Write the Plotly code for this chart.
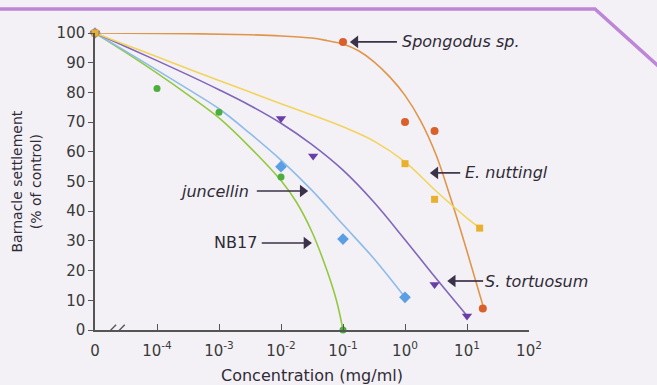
import math
import plotly.graph_objects as go

# ---------------- data ----------------
# x axis is log10(concentration, mg/ml); concentration 0 is drawn at the axis break position
ZERO_POS = -5
tick_vals = [-5, -4, -3, -2, -1, 0, 1, 2]
tick_text = ["0", "10<sup>-4</sup>", "10<sup>-3</sup>", "10<sup>-2</sup>", "10<sup>-1</sup>",
             "10<sup>0</sup>", "10<sup>1</sup>", "10<sup>2</sup>"]
y_ticks = [0, 10, 20, 30, 40, 50, 60, 70, 80, 90, 100]

# measured points: concentration (mg/ml) and settlement (% of control)
spongodus_conc = [0, 0.1, 1, 3, 18]
spongodus_val = [100, 97, 70, 67, 7.2]
nuttingi_conc = [0, 1, 3, 16]
nuttingi_val = [100, 56, 44, 34.3]
tortuosum_conc = [0, 0.01, 0.033, 3, 10]
tortuosum_val = [100, 71.2, 58.6, 15.3, 4.7]
juncellin_conc = [0, 0.01, 0.1, 1]
juncellin_val = [100, 55, 30.6, 11]
nb17_conc = [0, 1e-4, 1e-3, 1e-2, 0.1]
nb17_val = [100, 81.3, 73.3, 51.5, 0]

# fitted curves: log10(concentration) positions and values
spongodus_fit_x = [-5, -3.5, -2.5, -2, -1.5, -1.25, -1.0, -0.75, -0.5, -0.25, 0, 0.25, 0.5, 0.75, 1.0, 1.27]
spongodus_fit_y = [100, 99.8, 99.4, 99, 98.3, 97.4, 96.3, 94, 90.3, 85.3, 79, 70.5, 59, 43.5, 26.5, 7.3]
nuttingi_fit_x = [-5, -4.5, -4, -3.5, -3, -2.5, -2, -1.5, -1, -0.5, 0, 0.5, 1.0, 1.21]
nuttingi_fit_y = [100, 96, 92, 88, 84, 80.1, 76.2, 72.4, 68.4, 63.6, 56.6, 46.8, 37.7, 34.3]
tortuosum_fit_x = [-5, -4.5, -4, -3.5, -3, -2.5, -2, -1.5, -1, -0.5, 0, 0.5, 1.0]
tortuosum_fit_y = [100, 95.4, 90.7, 85.9, 80.9, 75.6, 69.6, 62.4, 53.8, 43.0, 30.4, 17.4, 4.8]
juncellin_fit_x = [-5, -4.5, -4, -3.5, -3, -2.5, -2, -1.5, -1, -0.5, 0]
juncellin_fit_y = [100, 93.8, 87.5, 81.1, 74.5, 66.2, 57.2, 47, 35.5, 24, 11]
nb17_fit_x = [-5, -4.5, -4, -3.5, -3, -2.5, -2, -1.75, -1.5, -1.25, -1.1, -1.0]
nb17_fit_y = [100, 93.4, 86.5, 79.2, 71.4, 61.5, 50.3, 43, 33, 19.5, 9.5, 0]

# labels: text, text anchor position, arrow tail -> arrow tip
labels = [
    {"text": "<i>Spongodus sp.</i>", "tx": -0.08, "ty": 97, "anchor": "left",
     "tail": (-0.13, 97), "tip": (-0.89, 97)},
    {"text": "<i>E. nuttingl</i>", "tx": 0.93, "ty": 52.9, "anchor": "left",
     "tail": (0.89, 52.9), "tip": (0.40, 52.9)},
    {"text": "<i>S. tortuosum</i>", "tx": 1.26, "ty": 16.5, "anchor": "left",
     "tail": (1.26, 16.5), "tip": (0.68, 16.5)},
    {"text": "<i>juncellin</i>", "tx": -2.48, "ty": 46.8, "anchor": "right",
     "tail": (-2.39, 46.8), "tip": (-1.56, 46.8)},
    {"text": "NB17", "tx": -2.36, "ty": 29.3, "anchor": "right",
     "tail": (-2.31, 29.3), "tip": (-1.50, 29.3)},
]


def pos(c):
    return math.log10(c) if c > 0 else ZERO_POS


FONT = "DejaVu Sans"
BG = "#f3f1f6"
TXT = "#2f2b37"
ARROW = "#3b3148"
HEAD_OFFSET = 0.09  # arrow head centre sits this far (in decades) behind the tip

fig = go.Figure()

series = [
    # name, conc, val, fit_x, fit_y, line colour, marker colour, symbol, size
    ("NB17", nb17_conc, nb17_val, nb17_fit_x, nb17_fit_y, "#93c940", "#4cae3c", "circle", 7),
    ("juncellin", juncellin_conc, juncellin_val, juncellin_fit_x, juncellin_fit_y, "#8dbbea", "#5a9ee3", "diamond", 9),
    ("S. tortuosum", tortuosum_conc, tortuosum_val, tortuosum_fit_x, tortuosum_fit_y, "#8066ba", "#6a3ea8", "triangle-down", 9),
    ("Spongodus sp.", spongodus_conc, spongodus_val, spongodus_fit_x, spongodus_fit_y, "#e0964a", "#d9602a", "circle", 8),
    ("E. nuttingi", nuttingi_conc, nuttingi_val, nuttingi_fit_x, nuttingi_fit_y, "#f2d45c", "#e8b02c", "square", 7),
]

for name, conc, val, fx, fy, lc, mc, sym, sz in series:
    fig.add_trace(go.Scatter(x=fx, y=fy, mode="lines", line=dict(color=lc, width=1.6, shape="spline", smoothing=1.0),
                             hoverinfo="skip", showlegend=False, cliponaxis=False))
for name, conc, val, fx, fy, lc, mc, sym, sz in series:
    fig.add_trace(go.Scatter(x=[pos(c) for c in conc], y=val, mode="markers", name=name,
                             marker=dict(color=mc, symbol=sym, size=sz, line=dict(width=0)),
                             showlegend=False, cliponaxis=False))

# label arrows: shafts and heads
shaft_x, shaft_y, head_x, head_y, head_sym = [], [], [], [], []
for lab in labels:
    (tx0, ty0), (tx1, ty1) = lab["tail"], lab["tip"]
    d = 1 if tx1 > tx0 else -1
    hx = tx1 - d * HEAD_OFFSET
    shaft_x += [tx0, hx, None]
    shaft_y += [ty0, ty1, None]
    head_x.append(hx)
    head_y.append(ty1)
    head_sym.append("triangle-right" if d > 0 else "triangle-left")
fig.add_trace(go.Scatter(x=shaft_x, y=shaft_y, mode="lines", line=dict(color=ARROW, width=1.7),
                         hoverinfo="skip", showlegend=False))
fig.add_trace(go.Scatter(x=head_x, y=head_y, mode="markers", hoverinfo="skip", showlegend=False,
                         marker=dict(symbol=head_sym, size=11, color=ARROW, line=dict(width=0))))

annotations = []
for lab in labels:
    annotations.append(dict(x=lab["tx"], y=lab["ty"], xref="x", yref="y", text=lab["text"], showarrow=False,
                            xanchor=lab["anchor"], yanchor="middle",
                            font=dict(family=FONT, size=16, color=TXT)))

# axis titles
annotations.append(dict(x=0.5, y=-0.152, xref="paper", yref="paper", text="Concentration (mg/ml)",
                        showarrow=False, xanchor="center", yanchor="middle",
                        font=dict(family=FONT, size=16, color=TXT)))
annotations.append(dict(x=-0.159, y=0.5, xref="paper", yref="paper",
                        text="Barnacle settlement<br>(% of control)", textangle=-90,
                        showarrow=False, xanchor="center", yanchor="middle",
                        font=dict(family=FONT, size=14, color=TXT)))

shapes = [
    # decorative purple frame line at the top
    dict(type="path", xref="paper", yref="paper",
         path="M -0.25 1.0808 L 1.152 1.0808 L 1.32 0.86",
         line=dict(color="#bd86d6", width=3.5), layer="above"),
    # axis break
    dict(type="rect", xref="x", yref="y", x0=-4.72, x1=-4.56, y0=-1.2, y1=1.2,
         fillcolor=BG, line=dict(width=0), layer="above"),
    dict(type="line", xref="x", yref="y", x0=-4.80, y0=-1.2, x1=-4.66, y1=1.8,
         line=dict(color="#555", width=1.4), layer="above"),
    dict(type="line", xref="x", yref="y", x0=-4.66, y0=-1.2, x1=-4.52, y1=1.8,
         line=dict(color="#555", width=1.4), layer="above"),
]

fig.update_layout(
    width=657, height=385, autosize=False,
    margin=dict(l=95, r=128, t=33, b=55),
    paper_bgcolor=BG, plot_bgcolor=BG,
    showlegend=False,
    annotations=annotations,
    shapes=shapes,
    xaxis=dict(range=[-5, 2], tickvals=tick_vals, ticktext=tick_text, ticks="inside", ticklen=6,
               tickcolor="#555", tickwidth=1.2, showgrid=False, zeroline=False, showline=True,
               linecolor="#555", linewidth=1.5, ticklabelstandoff=6,
               tickfont=dict(family=FONT, size=15, color="#3a3a3a")),
    yaxis=dict(range=[0, 100], tickvals=y_ticks, ticks="outside", ticklen=5,
               tickcolor="#555", tickwidth=1.2, showgrid=False, zeroline=False, showline=True,
               linecolor="#555", linewidth=1.5,
               tickfont=dict(family=FONT, size=15, color="#3a3a3a")),
)

fig.write_html("out.html", config={"displayModeBar": False},
               post_script="document.body.style.margin='0';")
